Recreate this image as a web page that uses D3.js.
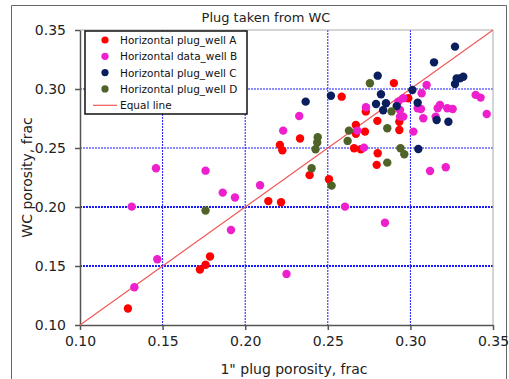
<!DOCTYPE html>
<html>
<head>
<meta charset="utf-8">
<script src="https://cdn.jsdelivr.net/npm/d3@7"></script>
<style>
  body { margin: 0; background: #fff; }
  svg { font-family: "DejaVu Sans", Arial, sans-serif; }
</style>
</head>
<body>
<div class="chart-container"></div>
<script>
// values (x = 1" plug porosity, y = WC porosity)
const wellA = [
  [0.129,0.114],[0.1726,0.147],[0.176,0.151],[0.1787,0.158],[0.214,0.205],[0.2217,0.204],
  [0.221,0.2526],[0.2225,0.248],[0.2332,0.258],[0.239,0.227],[0.2507,0.2235],[0.2584,0.2935],
  [0.2659,0.2498],[0.267,0.2695],[0.267,0.262],[0.27,0.249],[0.2725,0.2639],[0.273,0.281],
  [0.280,0.273],[0.2802,0.2455],[0.2796,0.2357],[0.2933,0.2723],[0.2933,0.2653],[0.290,0.305],
  [0.2987,0.2922]
];
const wellB = [
  [0.1313,0.2003],[0.146,0.2328],[0.176,0.2308],[0.1864,0.2122],[0.1938,0.208],[0.209,0.2184],
  [0.223,0.2647],[0.2327,0.2771],[0.1914,0.1805],[0.1468,0.1557],[0.1329,0.132],[0.225,0.1433],
  [0.2604,0.2003],[0.2846,0.1867],[0.2679,0.2647],[0.2719,0.2503],[0.3119,0.2305],[0.3214,0.2337],
  [0.3018,0.2639],[0.3078,0.2752],[0.2937,0.2766],[0.2957,0.2766],[0.3462,0.2788],[0.3153,0.2766],
  [0.3044,0.2837],[0.3064,0.2831],[0.3165,0.2837],[0.3223,0.2837],[0.3256,0.2831],[0.3179,0.2865],
  [0.3098,0.3034],[0.3068,0.2964],[0.3395,0.295],[0.3425,0.2927],[0.2731,0.2845],[0.2957,0.2922],
  [0.2927,0.2893],[0.2937,0.2822]
];
const wellC = [
  [0.2366,0.2893],[0.2519,0.2943],[0.2802,0.3113],[0.2822,0.2955],[0.2792,0.2873],[0.2852,0.2879],
  [0.2835,0.282],[0.2917,0.2855],[0.3012,0.2992],[0.3044,0.2884],[0.3143,0.3226],[0.327,0.3359],
  [0.327,0.3043],[0.328,0.309],[0.330,0.309],[0.332,0.3104],[0.3159,0.2737],[0.323,0.2723],
  [0.3048,0.2491]
];
const wellD = [
  [0.176,0.197],[0.2402,0.2329],[0.2426,0.249],[0.2436,0.2546],[0.2439,0.2591],[0.2523,0.2181],
  [0.262,0.256],[0.2628,0.2647],[0.2755,0.3049],[0.286,0.2667],[0.2886,0.281],[0.286,0.2376],
  [0.294,0.2498],[0.2963,0.2447]
];
const equalLine = [[0.10,0.10],[0.35,0.35]];
const tickValues = [0.10,0.15,0.20,0.25,0.30,0.35];
const seriesNames = ["Horizontal plug_well A","Horizontal data_well B","Horizontal plug_well C","Horizontal plug_well D"];
const seriesColors = ["#ff0000","#ee1fcc","#0b1f5e","#4f6228"];

const W = 509, H = 379;
const margin = {left: 80, right: 16, top: 30, bottom: 54};

const svg = d3.select(".chart-container").append("svg")
  .attr("width", W).attr("height", H);

// outer frame (bottom edge is cut off in the original)
svg.append("path")
  .attr("d", "M11.5," + (H+2) + "V5.5H506.5V" + (H+2))
  .attr("fill", "none").attr("stroke", "#666").attr("stroke-width", 1);

const x = d3.scaleLinear().domain([0.10,0.35]).range([margin.left, W - margin.right]);
const y = d3.scaleLinear().domain([0.10,0.35]).range([H - margin.bottom, margin.top]);

/* grid */
const grid = svg.append("g");
tickValues.slice(1,-1).forEach(v => {
  grid.append("line")
    .attr("x1", x(v)).attr("x2", x(v)).attr("y1", y(0.35)).attr("y2", y(0.10))
    .attr("stroke", "#1a1aff").attr("stroke-width", 1).attr("stroke-dasharray", "2,1");
  grid.append("line")
    .attr("x1", x(0.10)).attr("x2", x(0.35)).attr("y1", y(v)).attr("y2", y(v))
    .attr("stroke", "#1a1aff").attr("stroke-width", v < 0.22 ? 1.8 : 1.2).attr("stroke-dasharray", "2,1");
});

// top / right border of plot
svg.append("path")
  .attr("d", "M" + x(0.10) + "," + y(0.35) + "H" + x(0.35) + "V" + y(0.10))
  .attr("fill", "none").attr("stroke", "#aaa").attr("stroke-width", 1);

/* axes */
const xAxis = svg.append("g")
  .attr("transform", "translate(0," + y(0.10) + ")")
  .call(d3.axisBottom(x).tickValues(tickValues).tickFormat(d3.format(".2f")).tickSize(5).tickSizeOuter(0));
const yAxis = svg.append("g")
  .attr("transform", "translate(" + x(0.10) + ",0)")
  .call(d3.axisLeft(y).tickValues(tickValues).tickFormat(d3.format(".2f")).tickSize(5).tickSizeOuter(0));
[xAxis, yAxis].forEach(a => {
  a.selectAll("path, line").attr("stroke", "#555").attr("stroke-width", 1.5);
  a.selectAll("text").attr("fill", "#222").style("font-size", "14px")
    .style("font-family", "'DejaVu Sans', Arial, sans-serif");
});
xAxis.selectAll("text").attr("dy", "0.95em").attr("y", 8);
yAxis.selectAll("text").attr("x", -14);

/* equal line */
svg.append("path")
  .datum(equalLine)
  .attr("d", d3.line().x(d => x(d[0])).y(d => y(d[1])))
  .attr("stroke", "#f05a5a").attr("stroke-width", 1.2).attr("fill", "none");

/* points */
[wellA, wellB, wellC, wellD].forEach((data, i) => {
  svg.append("g").selectAll("circle")
    .data(data).enter().append("circle")
    .attr("cx", d => x(d[0])).attr("cy", d => y(d[1]))
    .attr("r", 4.2).attr("fill", seriesColors[i]);
});

/* title and axis labels */
svg.append("text").attr("x", 266).attr("y", 22).attr("text-anchor", "middle")
  .style("font-size", "13px").attr("fill", "#222").text("Plug taken from WC");
svg.append("text").attr("x", 294).attr("y", 374).attr("text-anchor", "middle")
  .style("font-size", "14px").attr("fill", "#222").text("1\" plug porosity, frac");
svg.append("text").attr("transform", "translate(32," + y(0.225) + ") rotate(-90)")
  .attr("text-anchor", "middle").style("font-size", "14px").attr("fill", "#222")
  .text("WC porosity, frac");

/* legend */
const legend = svg.append("g");
legend.append("rect").attr("x", 85).attr("y", 31).attr("width", 162).attr("height", 83)
  .attr("fill", "#fff").attr("stroke", "#111").attr("stroke-width", 1.5);
seriesNames.forEach((name, i) => {
  const ly = 40 + i * 16.3;
  legend.append("circle").attr("cx", 105).attr("cy", ly).attr("r", 3.6).attr("fill", seriesColors[i]);
  legend.append("text").attr("x", 120).attr("y", ly + 4).style("font-size", "10.5px")
    .attr("fill", "#111").text(name);
});
legend.append("line").attr("x1", 93).attr("x2", 117).attr("y1", 105.3).attr("y2", 105.3)
  .attr("stroke", "#f05a5a").attr("stroke-width", 1.2);
legend.append("text").attr("x", 120).attr("y", 109.3).style("font-size", "10.5px")
  .attr("fill", "#111").text("Equal line");
</script>
</body>
</html>
